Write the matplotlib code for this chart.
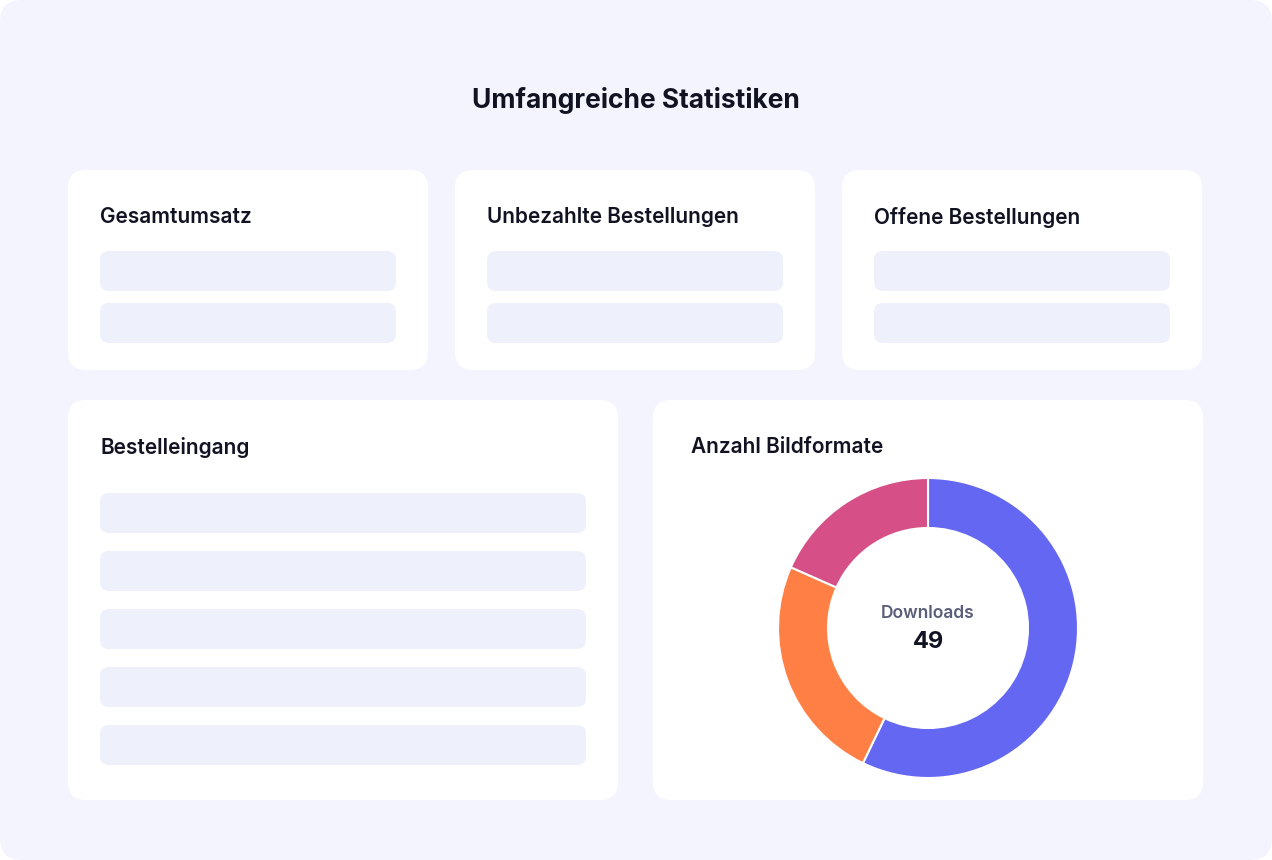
import matplotlib.pyplot as plt
from matplotlib.patches import FancyBboxPatch

title = "Umfangreiche Statistiken"
card_titles = ["Gesamtumsatz", "Unbezahlte Bestellungen", "Offene Bestellungen",
               "Bestelleingang", "Anzahl Bildformate"]
segment_labels = ["Blau", "Orange", "Pink"]
segment_values = [28, 12, 9]
segment_colors = ["#6467F2", "#FF7F45", "#D65087"]
center_label = "Downloads"
center_value = "49"

W, H = 1272, 860
fig = plt.figure(figsize=(W / 100, H / 100), dpi=100)
fig.patch.set_facecolor("white")
ax = fig.add_axes([0, 0, 1, 1])
ax.set_xlim(0, W)
ax.set_ylim(H, 0)
ax.axis("off")
plt.rcParams["font.family"] = "Inter"


def rbox(x, y, w, h, r, color):
    ax.add_patch(FancyBboxPatch((x, y), w, h, boxstyle=f"round,pad=0,rounding_size={r}",
                                fc=color, ec="none"))


rbox(0, 0, W, H, 22, "#F4F4FE")
ax.text(636, 100, title, ha="center", va="center", fontsize=19, fontweight="bold", color="#111322")

bar_col = "#EEF0FB"
# top cards
for i, x in enumerate([68, 455, 842]):
    rbox(x, 170, 360, 200, 18, "white")
    ax.text(x + 32, 217, card_titles[i], ha="left", va="center", fontsize=15,
            fontweight="semibold", color="#111322")
    for y in (251, 303):
        rbox(x + 32, y, 296, 40, 9, bar_col)

# bottom left
rbox(68, 400, 550, 400, 18, "white")
ax.text(100, 447, card_titles[3], ha="left", va="center", fontsize=15,
        fontweight="semibold", color="#111322")
for y in (493, 551, 609, 667, 725):
    rbox(100, y, 486, 40, 9, bar_col)

# bottom right
rbox(653, 400, 550, 400, 18, "white")
ax.text(691, 447, card_titles[4], ha="left", va="center", fontsize=15,
        fontweight="semibold", color="#111322")

pax = fig.add_axes([778 / W, (H - 778) / H, 300 / W, 300 / H])
pax.pie(segment_values, colors=segment_colors, startangle=90, counterclock=False,
        radius=1, wedgeprops=dict(width=1 / 3, edgecolor="white", linewidth=1.5))
pax.set_xlim(-1, 1)
pax.set_ylim(-1, 1)
pax.set_aspect("equal")
pax.axis("off")
pax.text(0, 0.1, center_label, ha="center", va="center", fontsize=12.5,
         fontweight="semibold", color="#5A5E78")
pax.text(0, -0.09, center_value, ha="center", va="center", fontsize=17,
         fontweight="bold", color="#111322")

fig.savefig("out.png", dpi=100, facecolor="white")
